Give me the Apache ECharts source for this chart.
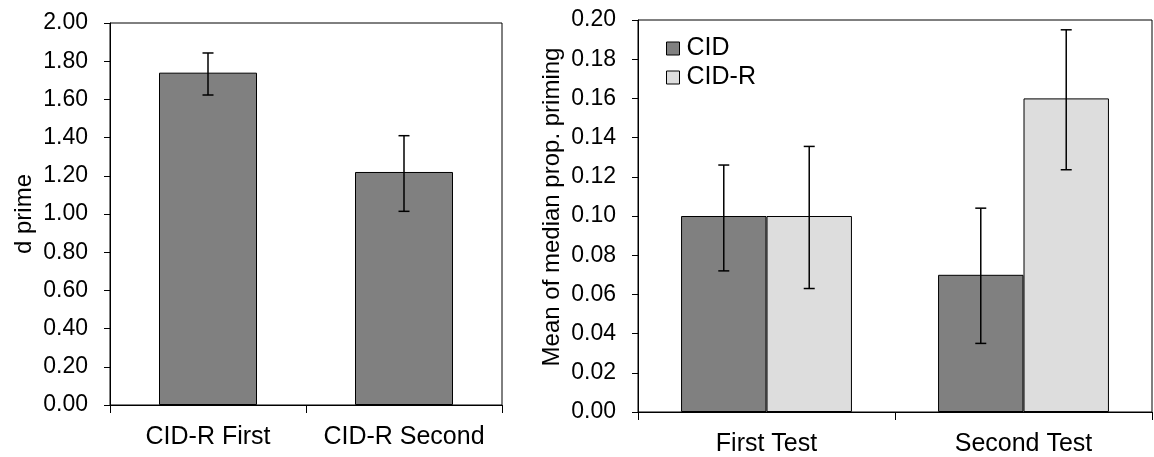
<!DOCTYPE html>
<html><head><meta charset="utf-8">
<script src="https://cdn.jsdelivr.net/npm/echarts@6/dist/echarts.min.js"></script>
<style>html,body{margin:0;padding:0;background:#fff}#c{width:1154px;height:457px}</style>
</head><body><div id="c"></div>
<script>
// Left panel data
const leftCategories = ['CID-R First', 'CID-R Second'];
const leftValues = [1.74, 1.22];
const leftErrHigh = [1.843, 1.41];
const leftErrLow = [1.623, 1.014];

// Right panel data
const rightCategories = ['First Test', 'Second Test'];
const seriesNames = ['CID', 'CID-R'];
const cidValues = [0.10, 0.07];
const cidErrHigh = [0.126, 0.104];
const cidErrLow = [0.072, 0.035];
const cidrValues = [0.10, 0.16];
const cidrErrHigh = [0.1355, 0.195];
const cidrErrLow = [0.063, 0.1236];

const FONT = 'Liberation Sans, Arial, sans-serif';
const BLACK = '#000';
const DARK = '#808080';
const LIGHT = '#DDDDDD';
const CAT_GAP = 0.335;

function errRender(offsetFactor) {
  return function (params, api) {
    const ci = api.value(0);
    const hi = api.value(1);
    const lo = api.value(2);
    const catW = api.size([1, 0])[0];
    const off = catW * offsetFactor;
    const pHi = api.coord([ci, hi]);
    const pLo = api.coord([ci, lo]);
    const x = pHi[0] + off;
    const cap = 5.5;
    const style = { stroke: BLACK, lineWidth: 1.5, fill: null };
    return {
      type: 'group',
      children: [
        { type: 'line', shape: { x1: x, y1: pHi[1], x2: x, y2: pLo[1] }, style: style },
        { type: 'line', shape: { x1: x - cap, y1: pHi[1], x2: x + cap, y2: pHi[1] }, style: style },
        { type: 'line', shape: { x1: x - cap, y1: pLo[1], x2: x + cap, y2: pLo[1] }, style: style }
      ]
    };
  };
}

function errData(hi, lo) { return hi.map((h, i) => [i, h, lo[i]]); }

const axisLineStyle = { lineStyle: { color: BLACK, width: 1 } };
const tickStyle = { show: true, inside: false, lineStyle: { color: BLACK, width: 1 } };

const option = {
  animation: false,
  backgroundColor: '#fff',
  textStyle: { fontFamily: FONT, color: BLACK },
  grid: [
    { left: 110, top: 23, right: 652, bottom: 52, show: true, borderColor: BLACK, borderWidth: 1, backgroundColor: 'transparent' },
    { left: 638, top: 20, right: 2, bottom: 44, show: true, borderColor: BLACK, borderWidth: 1, backgroundColor: 'transparent' }
  ],
  legend: {
    data: seriesNames,
    orient: 'vertical',
    left: 661,
    top: 31,
    itemWidth: 13,
    itemHeight: 13,
    itemGap: 4,
    icon: 'rect',
    itemStyle: { borderColor: BLACK, borderWidth: 1 },
    textStyle: { fontFamily: FONT, fontSize: 25, color: BLACK, padding: [0, 0, 0, 2] }
  },
  xAxis: [
    {
      type: 'category', gridIndex: 0, data: leftCategories,
      axisLine: axisLineStyle, axisTick: Object.assign({ length: 8 }, tickStyle),
      axisLabel: { color: BLACK, fontSize: 25, fontFamily: FONT, margin: 20, interval: 0, hideOverlap: false },
      splitLine: { show: false }
    },
    {
      type: 'category', gridIndex: 1, data: rightCategories,
      axisLine: axisLineStyle, axisTick: Object.assign({ length: 8 }, tickStyle),
      axisLabel: { color: BLACK, fontSize: 25, fontFamily: FONT, margin: 20, interval: 0, hideOverlap: false },
      splitLine: { show: false }
    }
  ],
  yAxis: [
    {
      type: 'value', gridIndex: 0, min: 0, max: 2, interval: 0.2,
      name: 'd prime', nameLocation: 'middle', nameGap: 74,
      nameTextStyle: { fontSize: 24, fontFamily: FONT, color: BLACK },
      axisLine: { show: true, lineStyle: { color: BLACK, width: 1 } },
      axisTick: Object.assign({ length: 6 }, tickStyle),
      axisLabel: { color: BLACK, fontSize: 23, fontFamily: FONT, margin: 22, formatter: v => v.toFixed(2) },
      splitLine: { show: false }
    },
    {
      type: 'value', gridIndex: 1, min: 0, max: 0.2, interval: 0.02,
      name: 'Mean of median prop. priming', nameLocation: 'middle', nameGap: 74,
      nameTextStyle: { fontSize: 24, fontFamily: FONT, color: BLACK, padding: [0, 0, 0, 18] },
      axisLine: { show: true, lineStyle: { color: BLACK, width: 1 } },
      axisTick: Object.assign({ length: 6 }, tickStyle),
      axisLabel: { color: BLACK, fontSize: 23, fontFamily: FONT, margin: 22, formatter: v => v.toFixed(2) },
      splitLine: { show: false }
    }
  ],
  series: [
    {
      type: 'bar', xAxisIndex: 0, yAxisIndex: 0, data: leftValues, barWidth: '50%',
      itemStyle: { color: DARK, borderColor: BLACK, borderWidth: 1 }
    },
    {
      type: 'custom', xAxisIndex: 0, yAxisIndex: 0, data: errData(leftErrHigh, leftErrLow),
      renderItem: errRender(0), z: 10, encode: { x: 0, y: [1, 2] }
    },
    {
      name: seriesNames[0], type: 'bar', xAxisIndex: 1, yAxisIndex: 1, data: cidValues,
      barGap: '0%', barCategoryGap: (CAT_GAP * 100) + '%',
      itemStyle: { color: DARK, borderColor: BLACK, borderWidth: 1 }
    },
    {
      name: seriesNames[1], type: 'bar', xAxisIndex: 1, yAxisIndex: 1, data: cidrValues,
      barGap: '0%', barCategoryGap: (CAT_GAP * 100) + '%',
      itemStyle: { color: LIGHT, borderColor: BLACK, borderWidth: 1 }
    },
    {
      type: 'custom', xAxisIndex: 1, yAxisIndex: 1, data: errData(cidErrHigh, cidErrLow),
      renderItem: errRender(-(1 - CAT_GAP) / 4), z: 10, encode: { x: 0, y: [1, 2] }
    },
    {
      type: 'custom', xAxisIndex: 1, yAxisIndex: 1, data: errData(cidrErrHigh, cidrErrLow),
      renderItem: errRender((1 - CAT_GAP) / 4), z: 10, encode: { x: 0, y: [1, 2] }
    }
  ]
};

const chart = echarts.init(document.getElementById('c'), null, { renderer: 'canvas' });
chart.setOption(option);
</script>
</body></html>
